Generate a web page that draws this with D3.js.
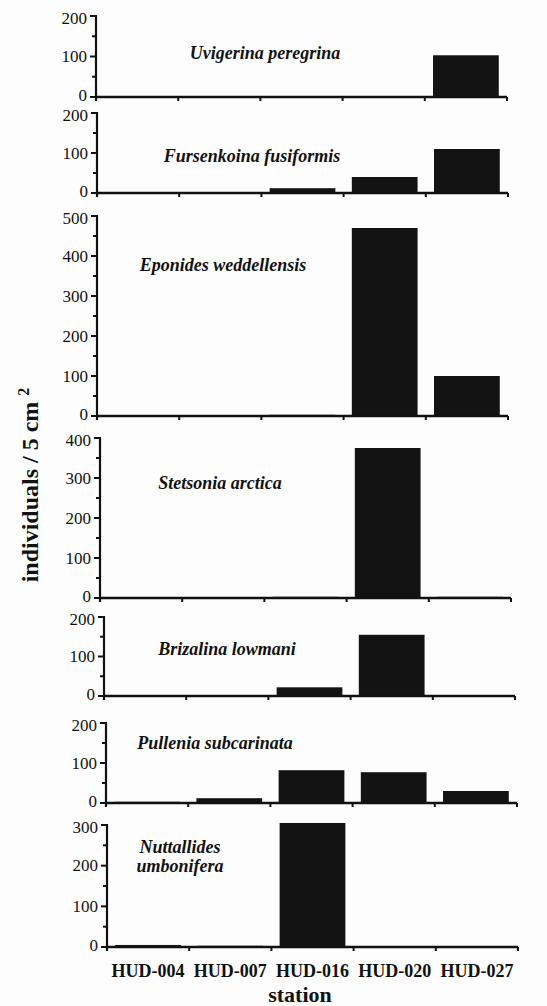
<!DOCTYPE html>
<html>
<head>
<meta charset="utf-8">
<script src="https://cdnjs.cloudflare.com/ajax/libs/d3/7.8.5/d3.min.js"></script>
<style>
  body { margin: 0; background: #fdfdfd; }
  svg { display: block; }
  text { font-family: "Liberation Serif", "Times New Roman", serif; fill: #111; }
</style>
</head>
<body>
<div id="chartId"></div>
<script>
// stations on the x axis
var stations = ["HUD-004", "HUD-007", "HUD-016", "HUD-020", "HUD-027"];

// one panel per species, top to bottom
var species = [
  "Uvigerina peregrina",
  "Fursenkoina fusiformis",
  "Eponides weddellensis",
  "Stetsonia arctica",
  "Brizalina lowmani",
  "Pullenia subcarinata",
  "Nuttallides umbonifera"
];

// individuals / 5 cm2 per station
var uvigerina   = [0, 0, 0, 0, 103];
var fursenkoina = [0, 2, 12, 40, 110];
var eponides    = [0, 0, 3, 470, 100];
var stetsonia   = [0, 1, 3, 375, 3];
var brizalina   = [0, 0, 22, 155, 1];
var pullenia    = [3, 12, 82, 77, 30];
var nuttallides = [5, 3, 305, 0, 0];

var seriesValues = [uvigerina, fursenkoina, eponides, stetsonia, brizalina, pullenia, nuttallides];

// y axis maximum for each panel
var yMax = [200, 200, 500, 400, 200, 200, 300];

// panel layout (pixels): left edge, y of the max value, y of zero,
// label centre from left edge, label baselines
var layout = [
  { left: 96,  top: 16,  zero: 97,  lx: 169, ly: [59] },
  { left: 97,  top: 113, zero: 193, lx: 155, ly: [162] },
  { left: 97,  top: 216, zero: 416, lx: 126, ly: [271] },
  { left: 100, top: 438, zero: 598, lx: 120, ly: [489] },
  { left: 104, top: 617, zero: 696, lx: 123, ly: [655] },
  { left: 106, top: 723, zero: 803, lx: 109, ly: [749] },
  { left: 107, top: 825, zero: 947, lx: 73,  ly: [853, 872] }
];

var W = 547, H = 1006, plotW = 411;

var svg = d3.select("#chartId")
  .append("svg")
  .attr("width", W)
  .attr("height", H);

svg.append("rect")
  .attr("width", W)
  .attr("height", H)
  .attr("fill", "#fdfdfd");

var lastX;

species.forEach(function (name, i) {
  var L = layout[i];
  var values = seriesValues[i];

  var x = d3.scaleBand()
    .domain(stations)
    .range([L.left, L.left + plotW])
    .paddingInner(0.2)
    .paddingOuter(0.1);
  lastX = x;

  var y = d3.scaleLinear()
    .domain([0, yMax[i]])
    .range([L.zero, L.top]);

  var g = svg.append("g").attr("class", "panel");

  // bars
  g.selectAll("rect.bar")
    .data(values)
    .enter().append("rect")
    .attr("class", "bar")
    .attr("x", function (d, j) { return x(stations[j]); })
    .attr("width", x.bandwidth())
    .attr("y", function (d) { return y(d); })
    .attr("height", function (d) { return y(0) - y(d); })
    .attr("fill", "#131313");

  // y axis: major ticks every 100, minor every 50
  var majors = d3.range(0, yMax[i] + 1, 100);
  var minors = d3.range(50, yMax[i], 100);

  g.append("line")
    .attr("x1", L.left).attr("x2", L.left)
    .attr("y1", y(yMax[i]) - 1).attr("y2", y(0) + 4)
    .attr("stroke", "#111").attr("stroke-width", 2.2);

  g.selectAll("line.major")
    .data(majors)
    .enter().append("line")
    .attr("class", "major")
    .attr("x1", L.left - 6).attr("x2", L.left)
    .attr("y1", function (d) { return y(d); })
    .attr("y2", function (d) { return y(d); })
    .attr("stroke", "#111").attr("stroke-width", 2);

  g.selectAll("line.minor")
    .data(minors)
    .enter().append("line")
    .attr("class", "minor")
    .attr("x1", L.left - 4).attr("x2", L.left)
    .attr("y1", function (d) { return y(d); })
    .attr("y2", function (d) { return y(d); })
    .attr("stroke", "#111").attr("stroke-width", 2);

  // zero label sits a touch high and top label a touch low, so that
  // neighbouring panels' labels don't collide
  g.selectAll("text.tick")
    .data(majors)
    .enter().append("text")
    .attr("class", "tick")
    .attr("x", L.left - 9)
    .attr("y", function (d) { return y(d); })
    .attr("dy", function (d) {
      if (d === 0) return "0.23em";
      if (d === yMax[i]) return "0.45em";
      return "0.34em";
    })
    .attr("text-anchor", "end")
    .style("font-size", "17px")
    .text(function (d) { return d; });

  // x axis line with ticks at the station boundaries
  g.append("line")
    .attr("x1", L.left).attr("x2", L.left + plotW)
    .attr("y1", y(0)).attr("y2", y(0))
    .attr("stroke", "#111").attr("stroke-width", 2.4);

  var bounds = stations.map(function (s) { return x(s) + x.bandwidth() + x.step() * 0.1; });
  g.selectAll("line.xtick")
    .data(bounds)
    .enter().append("line")
    .attr("class", "xtick")
    .attr("x1", function (d) { return d; })
    .attr("x2", function (d) { return d; })
    .attr("y1", y(0)).attr("y2", y(0) + 4)
    .attr("stroke", "#111").attr("stroke-width", 2);

  // species name, split on two lines where the layout asks for it
  var lines = L.ly.length > 1 ? name.split(" ") : [name];
  g.selectAll("text.species")
    .data(lines)
    .enter().append("text")
    .attr("class", "species")
    .attr("x", L.left + L.lx)
    .attr("y", function (d, j) { return L.ly[j]; })
    .attr("text-anchor", "middle")
    .style("font-size", "18px")
    .style("font-weight", "bold")
    .style("font-style", "italic")
    .text(function (d) { return d; });
});

// station labels under the last panel
svg.selectAll("text.station")
  .data(stations)
  .enter().append("text")
  .attr("class", "station")
  .attr("x", function (d) { return lastX(d) + lastX.bandwidth() / 2; })
  .attr("y", 977)
  .attr("text-anchor", "middle")
  .style("font-size", "18px")
  .style("font-weight", "bold")
  .text(function (d) { return d; });

svg.append("text")
  .attr("x", 300)
  .attr("y", 1002)
  .attr("text-anchor", "middle")
  .style("font-size", "22px")
  .style("font-weight", "bold")
  .text("station");

// y axis title
var yTitle = svg.append("text")
  .attr("transform", "translate(38,485) rotate(-90)")
  .attr("text-anchor", "middle")
  .style("font-size", "24px")
  .style("font-weight", "bold");
yTitle.append("tspan").text("individuals / 5 cm ");
yTitle.append("tspan")
  .attr("dy", "-0.55em")
  .style("font-size", "16px")
  .text("2");
</script>
</body>
</html>
